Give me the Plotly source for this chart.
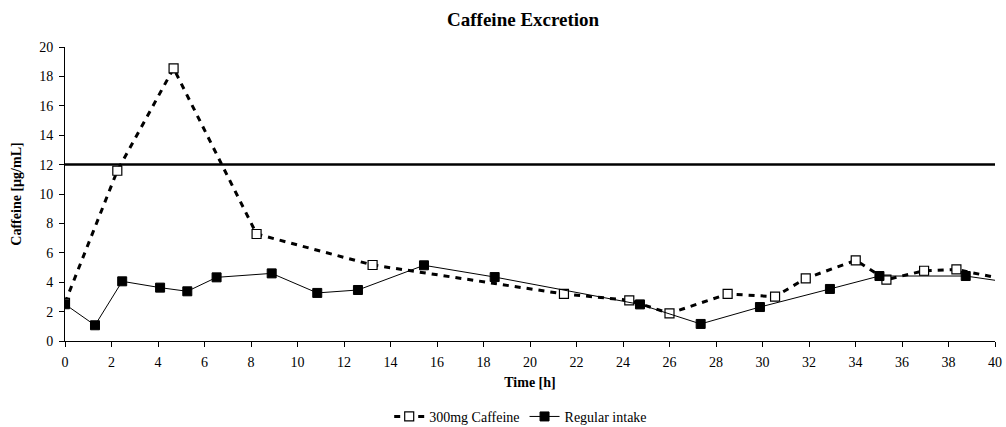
import plotly.graph_objects as go

# Data
caff_x = [0, 2.25, 4.67, 8.24, 13.23, 21.46, 24.27, 26.0, 28.5, 30.54, 31.86, 34.01, 35.33, 36.95, 38.34, 41.0]
caff_y = [2.6, 11.58, 18.55, 7.28, 5.17, 3.2, 2.77, 1.88, 3.2, 3.02, 4.26, 5.49, 4.17, 4.78, 4.87, 4.0]
reg_x = [0, 1.29, 2.46, 4.09, 5.26, 6.52, 8.89, 10.85, 12.6, 15.44, 18.48, 24.73, 27.34, 29.89, 32.9, 35.03, 38.74, 41.0]
reg_y = [2.5, 1.07, 4.06, 3.63, 3.38, 4.33, 4.6, 3.27, 3.47, 5.15, 4.35, 2.49, 1.16, 2.31, 3.54, 4.42, 4.42, 3.9]
REF_LEVEL = 12
X_RANGE = [0, 40]
Y_RANGE = [0, 20]

FONT = "Liberation Serif"

fig = go.Figure()
fig.add_trace(go.Scatter(
    x=caff_x, y=caff_y, mode="lines+markers", name="300mg Caffeine",
    line=dict(color="black", width=3, dash="6px,6px"),
    marker=dict(symbol="square", size=9, color="white", line=dict(color="black", width=1.2)),
))
fig.add_trace(go.Scatter(
    x=reg_x, y=reg_y, mode="lines+markers", name="Regular intake",
    line=dict(color="black", width=1),
    marker=dict(symbol="square", size=9, color="black", line=dict(color="black", width=1)),
))
fig.add_shape(type="line", xref="x", yref="y", x0=X_RANGE[0], x1=X_RANGE[1],
              y0=REF_LEVEL, y1=REF_LEVEL, line=dict(color="black", width=2.5))

fig.update_layout(
    width=1006, height=427,
    margin=dict(l=65, r=11, t=47, b=86, autoexpand=False),
    paper_bgcolor="white", plot_bgcolor="white",
    font=dict(family=FONT, size=14, color="black"),
    title=dict(text="<b>Caffeine Excretion</b>", x=0.52, xanchor="center", y=0.955, yanchor="middle",
               font=dict(family=FONT, size=19, color="black")),
    showlegend=True,
    legend=dict(orientation="h", x=0.49, xanchor="center", y=-0.258, yanchor="middle",
                font=dict(family=FONT, size=14, color="black"), bgcolor="rgba(0,0,0,0)"),
)
fig.update_xaxes(
    range=X_RANGE, tickmode="linear", tick0=0, dtick=2, automargin=False,
    showline=True, linecolor="black", linewidth=1, mirror=False,
    ticks="outside", ticklen=5, tickcolor="black", showgrid=False, zeroline=False,
    ticklabelstandoff=3,
    tickfont=dict(family=FONT, size=14, color="black"),
    title=dict(text="<b>Time [h]</b>", font=dict(family=FONT, size=14, color="black"), standoff=8),
)
fig.update_yaxes(
    range=Y_RANGE, tickmode="linear", tick0=0, dtick=2, automargin=False,
    showline=True, linecolor="black", linewidth=1, mirror=False,
    ticks="outside", ticklen=5, tickcolor="black", showgrid=False, zeroline=False,
    ticklabelstandoff=3,
    tickfont=dict(family=FONT, size=14, color="black"),
    title=dict(text="<b>Caffeine [µg/mL]</b>", font=dict(family=FONT, size=14, color="black"), standoff=14),
)

fig.write_html("out.html", config={"displayModeBar": False})
with open("out.html", "r", encoding="utf-8") as f:
    html = f.read()
html = html.replace("<body>", '<body style="margin:0;padding:0">', 1)
with open("out.html", "w", encoding="utf-8") as f:
    f.write(html)
